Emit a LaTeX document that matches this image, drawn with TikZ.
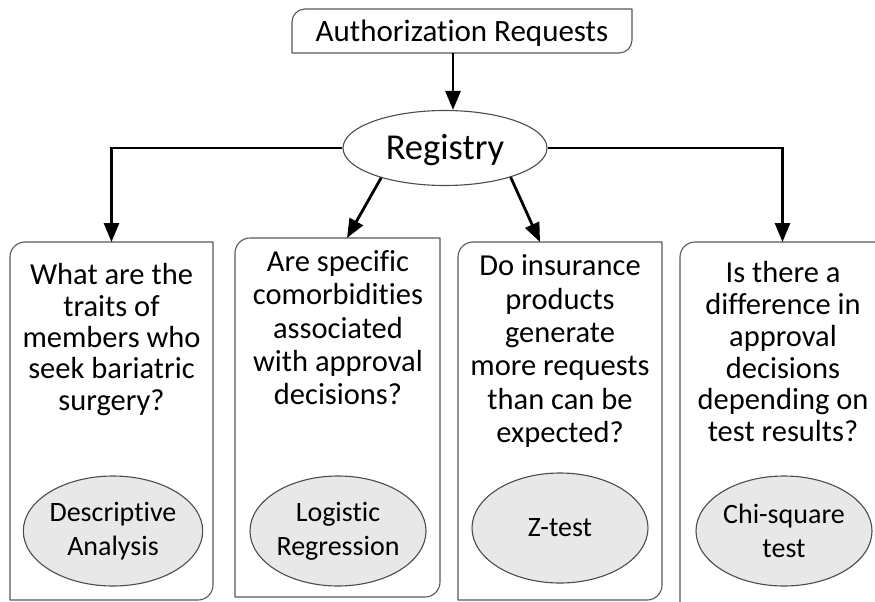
\documentclass[tikz,border=0pt]{standalone}
\usepackage{fontspec}
\setmainfont{Carlito}[Ligatures={NoCommon,NoContextual}]
\usetikzlibrary{arrows.meta,shapes.geometric}
\tikzset{
  frame/.style={draw=black!65, line width=1.1pt, line join=round},
  holder/.style={rectangle, inner sep=0pt, outer sep=0pt},
  arr/.style={line width=2.8pt, -{Triangle[length=19pt,width=15pt]}},
  qtext/.style={anchor=north, align=center, inner sep=0pt, text=black},
  method/.style={ellipse, draw=black!70, line width=1.1pt, fill=black!9, inner sep=0pt,
    minimum width=176pt, minimum height=110pt, align=center,
    font=\fontsize{28}{34}\selectfont},
}
\newcommand{\diagframe}[3]{%
  \draw[frame] ([xshift=#2]#1.north west) -- (#1.north east) -- ([yshift=#2]#1.south east)
    .. controls ([yshift=#3]#1.south east) and ([xshift=-#3]#1.south east) .. ([xshift=-#2]#1.south east)
    -- (#1.south west) -- ([yshift=-#2]#1.north west)
    .. controls ([yshift=-#3]#1.north west) and ([xshift=#3]#1.north west) .. ([xshift=#2]#1.north west) -- cycle;}
\begin{document}
\begin{tikzpicture}[x=1pt,y=-1pt]
\useasboundingbox (0,0) rectangle (875,602);
\fill[white] (0,0) rectangle (875,602);

% top box
\node[holder, minimum width=340pt, minimum height=44pt, text height=26pt, text depth=4pt,
  font=\fontsize{31}{37}\selectfont] (top) at (462,31) {Authorization Requests};
\diagframe{top}{13pt}{5.8pt}

% registry
\node[ellipse, draw=black!70, line width=1.1pt, fill=white, minimum width=204pt,
  minimum height=75pt, inner sep=0pt, text height=23pt, text depth=0pt,
  font=\fontsize{36.5}{43}\selectfont] (reg) at (445,148) {Registry};

% boxes
\node[holder, minimum width=203pt, minimum height=358pt] (b1) at (111.5,421) {};
\node[holder, minimum width=205pt, minimum height=359pt] (b2) at (337.5,417.5) {};
\node[holder, minimum width=204pt, minimum height=358pt] (b3) at (560,421) {};
\node[holder, minimum width=205pt, minimum height=362pt] (b4) at (782.5,423) {};
\diagframe{b1}{15pt}{6.7pt}
\diagframe{b2}{15pt}{6.7pt}
\diagframe{b3}{15pt}{6.7pt}
\diagframe{b4}{15pt}{6.7pt}

% questions
\node[qtext, font=\fontsize{30.5}{31.3}\selectfont] (q1) at (111.5,263.6)
  {What are the\\traits of\\members who\\seek bariatric\\surgery?};
\node[qtext, font=\fontsize{30.5}{33.3}\selectfont] (q2) at (338,250.5)
  {Are specific\\comorbidities\\associated\\with approval\\decisions?};
\node[qtext, font=\fontsize{30.5}{33.4}\selectfont] (q3) at (560,254.5)
  {Do insurance\\products\\generate\\more requests\\than can be\\expected?};
\node[qtext, font=\fontsize{30.5}{31.7}\selectfont] (q4) at (783,261.6)
  {Is there a\\difference in\\approval\\decisions\\depending on\\test results?};

% methods
\node[method] (m1) at (113,531) {Descriptive\\Analysis};
\node[method] (m2) at (338,531) {Logistic\\Regression};
\node[method] (m3) at (560,528) {Z-test};
\node[method] (m4) at (784,531) {Chi-square\\test};

% connectors
\coordinate (ax) at (453,0);
\draw[arr] (top.south -| ax) -- (reg.north -| ax);
\draw[arr] (reg.west) -| (b1.north);
\draw[arr] (reg.east) -| (b4.north);
\draw[arr] (reg.205) -- ([xshift=9.5pt]b2.north);
\draw[arr] (reg.336) -- ([xshift=-20pt]b3.north);
\end{tikzpicture}
\end{document}
